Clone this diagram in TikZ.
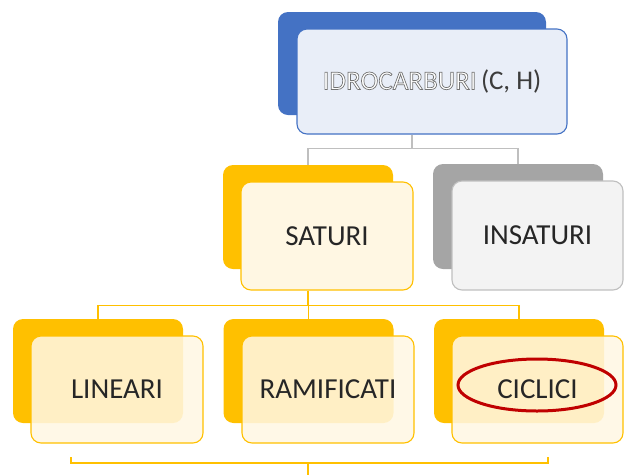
\documentclass[tikz,border=0pt]{standalone}
\usepackage{fontspec}
\setmainfont{Carlito}
\usetikzlibrary{shapes.geometric}
\definecolor{ybk}{HTML}{FFC000}
\definecolor{yfr}{HTML}{FFF7E3}
\definecolor{bbk}{HTML}{4472C4}
\definecolor{bfr}{HTML}{E9EEF8}
\definecolor{gbk}{HTML}{A5A5A5}
\definecolor{gfr}{HTML}{F3F3F3}
\definecolor{gline}{HTML}{BFBFBF}
\definecolor{txt}{HTML}{262626}
\definecolor{redc}{HTML}{C00000}
\newcommand{\hollowtext}[1]{\textcolor{white}{\special{pdf:literal 0.45 G 0.7 w 2 Tr}#1\special{pdf:literal 0 Tr}}}
\tikzset{
  box/.style={rectangle, rounded corners=10pt, inner sep=0pt},
  backbox/.style={box, fill=#1},
  frontbox/.style={box, draw=#1, line width=1.1pt, font=\fontsize{29}{32}\selectfont, text=txt},
  conn/.style={line width=1.8pt}
}
\begin{document}
\begin{tikzpicture}[x=1pt,y=-1pt]
\useasboundingbox (0,0) rectangle (625,475);
% top
\node[backbox=bbk, minimum width=268pt, minimum height=103pt] (topback) at (412,63.5) {};
\node[frontbox=bbk, fill=bfr, minimum width=270pt, minimum height=105pt] (topfront) at (432,81.5)
  {\fontsize{27}{30}\selectfont\hollowtext{IDROCARBURI}\,\textcolor{txt!90}{(C, H)}};
% second level
\node[backbox=ybk, minimum width=170pt, minimum height=104pt] (satback) at (308,217) {};
\node[frontbox=ybk, fill=yfr, minimum width=172pt, minimum height=108pt] (satfront) at (327,236) {SATURI};
\node[backbox=gbk, minimum width=170pt, minimum height=105pt] (insback) at (518,216.5) {};
\node[frontbox=gline, fill=gfr, minimum width=171pt, minimum height=109pt] (insfront) at (537.5,235.5) {INSATURI};
% third level
\node[backbox=ybk, minimum width=170pt, minimum height=104pt] (linback) at (98,371) {};
\node[frontbox=ybk, fill=yfr, fill opacity=0.87, text opacity=1, minimum width=172pt, minimum height=107pt] (linfront) at (117,389.5) {LINEARI};
\node[backbox=ybk, minimum width=170pt, minimum height=104pt] (ramback) at (308.5,371) {};
\node[frontbox=ybk, fill=yfr, fill opacity=0.87, text opacity=1, minimum width=172pt, minimum height=107pt] (ramfront) at (328,389.5) {RAMIFICATI};
\node[backbox=ybk, minimum width=170pt, minimum height=104pt] (cicback) at (519,371) {};
\node[frontbox=ybk, fill=yfr, fill opacity=0.87, text opacity=1, minimum width=171pt, minimum height=107pt] (cicfront) at (537.5,389.5) {CICLICI};
\node[ellipse, draw=redc, line width=3pt, minimum width=158pt, minimum height=52pt, inner sep=0pt] (ring) at (537,385) {};
% connectors
\coordinate (t0) at (topback.south |- topfront.south);
\draw[conn, gline] (t0) -- ++(0,14) coordinate (t1);
\draw[conn, gline] (t1) -| (satback.north);
\draw[conn, gline] (t1) -| (insback.north);
\coordinate (s0) at (satback.south |- satfront.south);
\draw[conn, ybk] (s0) -- ++(0,15) coordinate (s1);
\draw[conn, ybk] (s1) -| (linback.north);
\draw[conn, ybk] (s1) -| (ramback.north);
\draw[conn, ybk] (s1) -| (cicback.north);
% brace
\coordinate (bl) at (71,457);
\coordinate (br) at (548,457);
\coordinate (bm) at (308,463);
\coordinate (bb) at (308,475);
\draw[conn, ybk] (bl) |- (bm) -| (br);
\draw[conn, ybk] (bm) -- (bb);
\end{tikzpicture}
\end{document}
